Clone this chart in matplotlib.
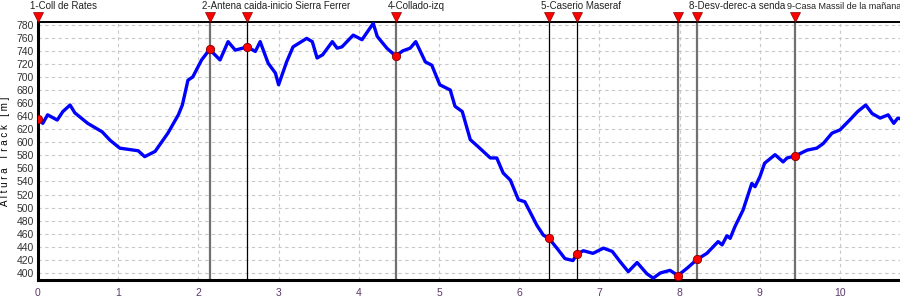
import numpy as np
import matplotlib
matplotlib.use('Agg')
import matplotlib.pyplot as plt
import matplotlib.transforms as mtransforms

plt.rcParams['font.family'] = ['Liberation Sans', 'DejaVu Sans']

# perfil del track: distancia (km) y altura (m)
dist = [0.00, 0.06, 0.12, 0.24, 0.31, 0.40, 0.46, 0.62, 0.80, 0.90, 1.02, 1.25, 1.33, 1.46,
        1.62, 1.75, 1.80, 1.87, 1.93, 2.04, 2.14, 2.27, 2.37, 2.46, 2.61, 2.71, 2.77, 2.87,
        2.96, 3.00, 3.10, 3.18, 3.35, 3.42, 3.48, 3.55, 3.67, 3.73, 3.79, 3.93, 4.04, 4.18,
        4.23, 4.35, 4.46, 4.55, 4.64, 4.71, 4.83, 4.91, 5.01, 5.14, 5.20, 5.29, 5.39, 5.49,
        5.64, 5.72, 5.80, 5.89, 5.99, 6.07, 6.22, 6.30, 6.37, 6.47, 6.57, 6.67, 6.72, 6.80,
        6.92, 7.05, 7.16, 7.26, 7.36, 7.47, 7.59, 7.67, 7.76, 7.88, 7.98, 8.10, 8.22, 8.34,
        8.48, 8.53, 8.59, 8.63, 8.69, 8.79, 8.90, 8.94, 9.00, 9.06, 9.19, 9.29, 9.34, 9.44,
        9.59, 9.71, 9.79, 9.90, 10.00, 10.12, 10.22, 10.32, 10.40, 10.50, 10.60, 10.67,
        10.72, 10.75]
alt = [636, 629, 642, 634, 647, 657, 645, 629, 616, 603, 591, 587, 578, 586,
       614, 642, 657, 695, 700, 726, 742, 726, 754, 741, 746, 739, 754, 721,
       706, 688, 723, 746, 759, 754, 729, 734, 754, 744, 746, 764, 757, 782,
       762, 744, 732, 740, 744, 754, 723, 718, 688, 680, 655, 647, 604, 593,
       576, 576, 553, 542, 512, 509, 473, 458, 453, 438, 422, 419, 429, 434,
       430, 438, 433, 417, 402, 416, 399, 392, 400, 404, 396, 408, 421, 430,
       448, 443, 457, 453, 471, 496, 537, 532, 547, 568, 581, 570, 576, 579,
       588, 591, 598, 614, 619, 634, 647, 657, 644, 637, 642, 629,
       637, 636]

# waypoints
wp_dist = [0.00, 2.14, 2.61, 4.46, 6.37, 6.72, 7.98, 8.22, 9.44]
wp_alt = [636, 742, 746, 732, 453, 429, 396, 421, 579]
wp_names = ['1-Coll de Rates', '2-Antena caida-inicio Sierra Ferrer', '', '4-Collado-izq',
            '5-Caserio Maseraf', '', '', '8-Desv-derec-a senda', '9-Casa Massil de la mañana']
wp_gray = [True, True, False, True, False, False, True, True, True]

fig = plt.figure(figsize=(9, 3.02), dpi=100)
ax = fig.add_axes([0.0422, 0.073, 0.958, 0.854])

ax.set_xlim(0, 10.75)
ax.set_ylim(389.3, 784)
ax.set_yticks(np.arange(400, 781, 20))
ax.set_xticks(np.arange(0, 11, 1))
ax.grid(True, color='#c8c8c8', linestyle=(0, (3, 3)), linewidth=0.8)
ax.set_axisbelow(True)

for d, g in zip(wp_dist, wp_gray):
    if g:
        ax.axvline(d, color='#707070', lw=1.6, zorder=2)
    else:
        ax.axvline(d, color='black', lw=0.9, zorder=2)

ax.plot(dist, alt, color='#0000ff', lw=2.4, zorder=3, solid_joinstyle='round')
ax.plot(wp_dist, wp_alt, 'o', color='red', mec='#800000', mew=0.6, ms=6, zorder=4)

trans = mtransforms.blended_transform_factory(ax.transData, ax.transAxes)
ax.plot(wp_dist, [1.02] * len(wp_dist), 'v', color='red', mec='#900000', mew=0.5, ms=7,
        transform=trans, clip_on=False, zorder=5)
for d, name in zip(wp_dist, wp_names):
    if name:
        fs = 6.5 if name.startswith('9-') else 7
        ax.text(d - 0.1, 1.062, name, transform=trans, fontsize=fs, color='#222222',
                ha='left', va='center')

for s in ['left', 'bottom']:
    ax.spines[s].set_linewidth(2.2)
ax.spines['top'].set_linewidth(1.4)
ax.spines['right'].set_visible(False)

ax.tick_params(axis='y', labelsize=7.5, labelcolor='#333333', length=0, pad=3)
ax.tick_params(axis='x', labelsize=7.5, labelcolor='#5a3a6a', length=0, pad=6)
ax.set_ylabel('A l t u r a   T r a c k   [ m ]', fontsize=7, labelpad=4)
ax.yaxis.set_label_coords(-0.032, 0.5)

fig.savefig('out.png', dpi=100)
